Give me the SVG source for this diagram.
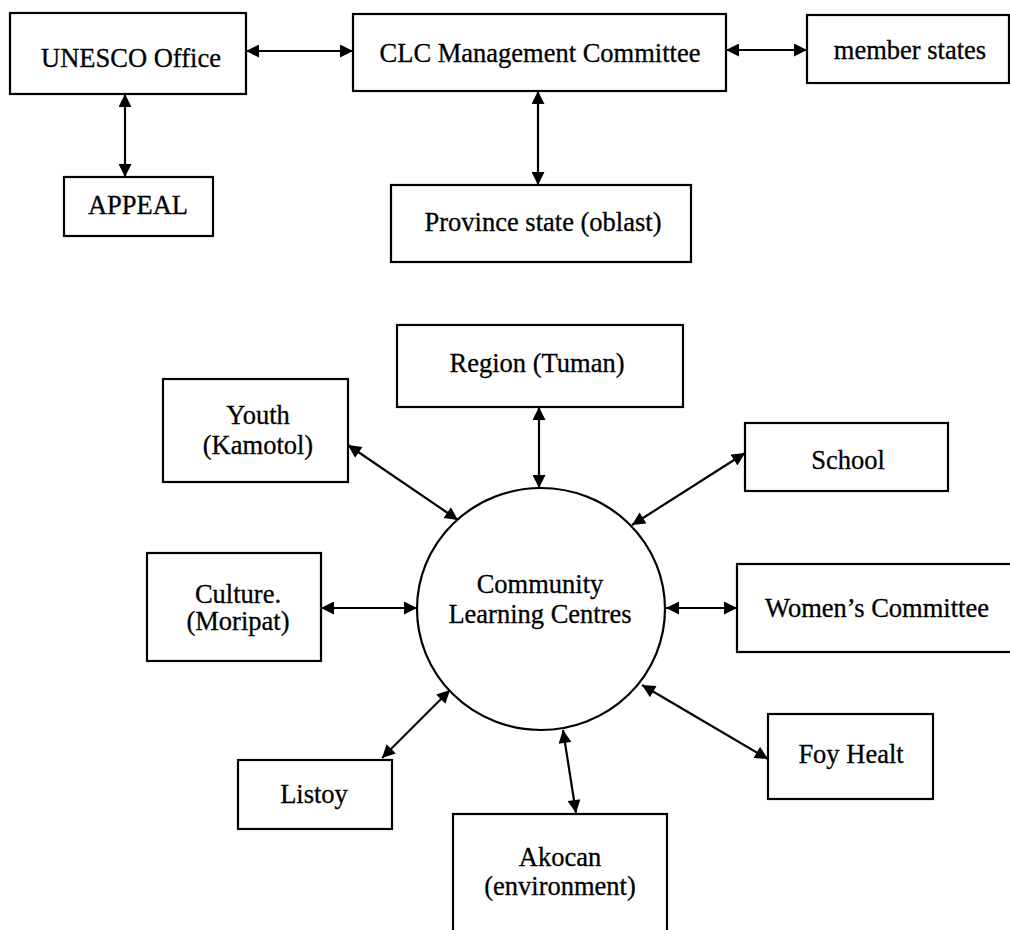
<svg xmlns="http://www.w3.org/2000/svg" width="1010" height="930" viewBox="0 0 1010 930">
<style>
.box{fill:#fff;stroke:#000;stroke-width:2.2}
.t{font-family:"Liberation Serif","Times New Roman",serif;font-size:26.5px;fill:#000;stroke:#000;stroke-width:0.3;text-anchor:middle}
.c{stroke:#000;stroke-width:2.2;fill:none;marker-start:url(#ah);marker-end:url(#ah)}
</style>
<defs>
<marker id="ah" viewBox="0 0 12 12" refX="12" refY="6" markerWidth="14" markerHeight="13" markerUnits="userSpaceOnUse" orient="auto-start-reverse">
<path d="M0,0 L12,6 L0,12 z" fill="#000"/>
</marker>
</defs>
<rect width="1010" height="930" fill="#fff"/>
<g id="connectors">
<line class="c" x1="246" y1="51" x2="353" y2="51"/>
<line class="c" x1="726" y1="50" x2="807" y2="50"/>
<line class="c" x1="125" y1="94" x2="125" y2="177"/>
<line class="c" x1="538" y1="91" x2="538" y2="185"/>
<line class="c" x1="539" y1="407" x2="539" y2="488"/>
<line class="c" x1="348" y1="445" x2="458" y2="520"/>
<line class="c" x1="745" y1="453" x2="632" y2="525"/>
<line class="c" x1="321" y1="608" x2="417" y2="608"/>
<line class="c" x1="666" y1="608" x2="737" y2="608"/>
<line class="c" x1="382" y1="758" x2="450" y2="690"/>
<line class="c" x1="563" y1="730" x2="576" y2="813"/>
<line class="c" x1="642" y1="685" x2="768" y2="759"/>
</g>
<g id="unesco"><rect class="box" x="10" y="13" width="236" height="81"/><text class="t" x="131" y="67">UNESCO Office</text></g>
<g id="clc"><rect class="box" x="353" y="14" width="373" height="77"/><text class="t" x="540" y="62">CLC Management Committee</text></g>
<g id="member"><rect class="box" x="807" y="15" width="202" height="68"/><text class="t" x="910" y="59">member states</text></g>
<g id="appeal"><rect class="box" x="64" y="177" width="149" height="59"/><text class="t" x="138" y="214">APPEAL</text></g>
<g id="province"><rect class="box" x="391" y="185" width="300" height="77"/><text class="t" x="543" y="231">Province state (oblast)</text></g>
<g id="region"><rect class="box" x="397" y="325" width="286" height="82"/><text class="t" x="537" y="372">Region (Tuman)</text></g>
<g id="youth"><rect class="box" x="163" y="379" width="185" height="103"/><text class="t" x="258" y="424">Youth</text><text class="t" x="258" y="454">(Kamotol)</text></g>
<g id="school"><rect class="box" x="745" y="423" width="203" height="68"/><text class="t" x="848" y="469">School</text></g>
<g id="culture"><rect class="box" x="147" y="553" width="174" height="108"/><text class="t" x="238" y="603">Culture.</text><text class="t" x="238" y="630">(Moripat)</text></g>
<g id="clcentres"><ellipse class="box" cx="541" cy="609" rx="124" ry="121"/><text class="t" x="540" y="593">Community</text><text class="t" x="540" y="623">Learning Centres</text></g>
<g id="women"><rect class="box" x="737" y="564" width="275" height="88"/><text class="t" x="877" y="617">Women’s Committee</text></g>
<g id="listoy"><rect class="box" x="238" y="760" width="154" height="69"/><text class="t" x="314" y="803">Listoy</text></g>
<g id="foy"><rect class="box" x="768" y="714" width="165" height="85"/><text class="t" x="851" y="763">Foy Healt</text></g>
<g id="akocan"><rect class="box" x="453" y="814" width="214" height="130"/><text class="t" x="560" y="866">Akocan</text><text class="t" x="560" y="895">(environment)</text></g>
</svg>
